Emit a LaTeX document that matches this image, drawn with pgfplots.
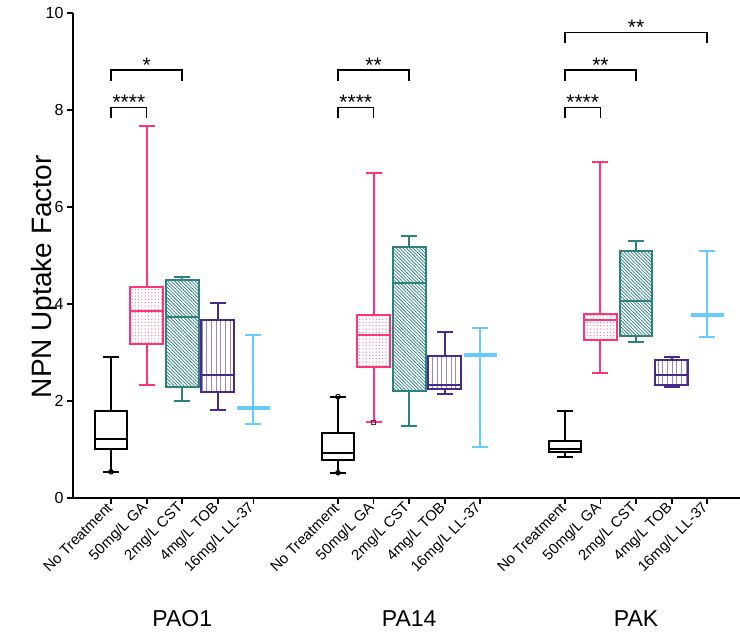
\documentclass[border=0pt]{standalone}
\usepackage{fontspec}
\setmainfont{Liberation Sans}
\usepackage{pgfplots}
\pgfplotsset{compat=1.18}
\usepgfplotslibrary{statistics}
\usetikzlibrary{patterns.meta}

\definecolor{gapink}{RGB}{255,51,119}
\definecolor{cstteal}{RGB}{45,130,128}
\definecolor{tobpurple}{RGB}{75,40,140}
\definecolor{llblue}{RGB}{102,204,255}

\pgfplotsset{
  bx/.style={line width=2pt, solid, boxplot/draw direction=y,
    boxplot/box extend=0.92, boxplot/whisker extend=0.45},
  nt/.style={bx, draw=black, boxplot/every box/.style={draw=black, fill=white}},
  ga/.style={bx, draw=gapink, boxplot/every box/.style={draw=gapink,
      pattern={Dots[distance=3.3pt, radius=0.65pt]}, pattern color=gapink!75}},
  cst/.style={bx, draw=cstteal, boxplot/every box/.style={draw=cstteal,
      pattern={Lines[angle=-45, distance=2.4pt, line width=0.75pt]}, pattern color=cstteal}},
  tob/.style={bx, draw=tobpurple, boxplot/every box/.style={draw=tobpurple,
      pattern={Lines[angle=90, distance=4.7pt, line width=1pt]}, pattern color=tobpurple!55}},
  ll/.style={bx, draw=llblue, boxplot/every median/.style={line width=4pt}},
}

\begin{document}
\begin{tikzpicture}
\useasboundingbox (-73pt,-138pt) rectangle (667pt,498pt);
\begin{axis}[
  at={(0pt,0pt)}, anchor=south west,
  scale only axis, width=667pt, height=485pt,
  xmin=-1.07, xmax=17.67, ymin=0, ymax=10,
  axis x line=bottom, axis y line=left,
  axis line style={-, line width=2pt, black},
  tick align=outside, major tick length=6pt,
  tick style={line width=1.8pt, black},
  ytick={0,2,4,6,8,10},
  yticklabel style={font=\fontsize{16}{16}\selectfont},
  /pgf/number format/assume math mode=true,
  xtick={0,1,2,3,4,6.375,7.375,8.375,9.375,10.375,12.75,13.75,14.75,15.75,16.75},
  xticklabels={No Treatment,50mg/L GA,2mg/L CST,4mg/L TOB,16mg/L LL-37,
               No Treatment,50mg/L GA,2mg/L CST,4mg/L TOB,16mg/L LL-37,
               No Treatment,50mg/L GA,2mg/L CST,4mg/L TOB,16mg/L LL-37},
  xticklabel style={rotate=45, anchor=east, inner sep=2pt, font=\fontsize{14.8}{14.8}\selectfont},
  ylabel={NPN Uptake Factor},
  ylabel style={font=\fontsize{28}{28}\selectfont, at={(axis description cs:-0.0435,0.456)}, anchor=center},
  clip=false,
]
% PAO1
\addplot[nt, boxplot prepared={draw position=0, lower whisker=0.54, lower quartile=1.00, median=1.22, upper quartile=1.79, upper whisker=2.91}] coordinates {};
\addplot[ga, boxplot prepared={draw position=1, lower whisker=2.33, lower quartile=3.18, median=3.86, upper quartile=4.36, upper whisker=7.68}] coordinates {};
\addplot[cst, boxplot prepared={draw position=2, lower whisker=2.01, lower quartile=2.29, median=3.73, upper quartile=4.50, upper whisker=4.56}] coordinates {};
\addplot[tob, boxplot prepared={draw position=3, lower whisker=1.81, lower quartile=2.18, median=2.54, upper quartile=3.66, upper whisker=4.03}] coordinates {};
\addplot[ll, boxplot prepared={draw position=4, lower whisker=1.52, lower quartile=1.85, median=1.85, upper quartile=1.85, upper whisker=3.37}] coordinates {};
% PA14
\addplot[nt, boxplot prepared={draw position=6.375, lower whisker=0.52, lower quartile=0.78, median=0.92, upper quartile=1.33, upper whisker=2.09}] coordinates {};
\addplot[ga, boxplot prepared={draw position=7.375, lower whisker=1.56, lower quartile=2.71, median=3.37, upper quartile=3.77, upper whisker=6.71}] coordinates {};
\addplot[cst, boxplot prepared={draw position=8.375, lower whisker=1.49, lower quartile=2.21, median=4.43, upper quartile=5.18, upper whisker=5.40}] coordinates {};
\addplot[tob, boxplot prepared={draw position=9.375, lower whisker=2.15, lower quartile=2.25, median=2.33, upper quartile=2.92, upper whisker=3.42}] coordinates {};
\addplot[ll, boxplot prepared={draw position=10.375, lower whisker=1.05, lower quartile=2.94, median=2.94, upper quartile=2.94, upper whisker=3.51}] coordinates {};
% PAK
\addplot[nt, boxplot prepared={draw position=12.75, lower whisker=0.85, lower quartile=0.94, median=1.02, upper quartile=1.18, upper whisker=1.79}] coordinates {};
\addplot[ga, boxplot prepared={draw position=13.75, lower whisker=2.58, lower quartile=3.25, median=3.67, upper quartile=3.80, upper whisker=6.92}] coordinates {};
\addplot[cst, boxplot prepared={draw position=14.75, lower whisker=3.22, lower quartile=3.33, median=4.06, upper quartile=5.09, upper whisker=5.30}] coordinates {};
\addplot[tob, boxplot prepared={draw position=15.75, lower whisker=2.28, lower quartile=2.32, median=2.53, upper quartile=2.84, upper whisker=2.91}] coordinates {};
\addplot[ll, boxplot prepared={draw position=16.75, lower whisker=3.31, lower quartile=3.77, median=3.77, upper quartile=3.77, upper whisker=5.10}] coordinates {};
% single points at whisker ends
\addplot[only marks, mark=o, mark size=2.3pt, black, line width=1pt] coordinates {(0,0.54) (6.375,0.52) (6.375,2.09)};
\addplot[only marks, mark=square, mark size=2pt, gapink!50!black, line width=1pt] coordinates {(7.375,1.56)};

% significance brackets
\begin{scope}[line width=1.6pt, black]
\draw (axis cs:0,7.83) -- (axis cs:0,8.05) -- (axis cs:1,8.05) -- (axis cs:1,7.83);
\draw (axis cs:0,8.60) -- (axis cs:0,8.82) -- (axis cs:2,8.82) -- (axis cs:2,8.60);
\draw (axis cs:6.375,7.83) -- (axis cs:6.375,8.05) -- (axis cs:7.375,8.05) -- (axis cs:7.375,7.83);
\draw (axis cs:6.375,8.60) -- (axis cs:6.375,8.82) -- (axis cs:8.375,8.82) -- (axis cs:8.375,8.60);
\draw (axis cs:12.75,7.83) -- (axis cs:12.75,8.05) -- (axis cs:13.75,8.05) -- (axis cs:13.75,7.83);
\draw (axis cs:12.75,8.60) -- (axis cs:12.75,8.82) -- (axis cs:14.75,8.82) -- (axis cs:14.75,8.60);
\draw (axis cs:12.75,9.39) -- (axis cs:12.75,9.60) -- (axis cs:16.75,9.60) -- (axis cs:16.75,9.39);
\end{scope}
\begin{scope}[every node/.style={font=\fontsize{21}{21}\selectfont, anchor=base, inner sep=0pt}]
\node at (axis cs:0.5,8.0) {****};
\node at (axis cs:1,8.78) {*};
\node at (axis cs:6.875,8.0) {****};
\node at (axis cs:7.375,8.78) {**};
\node at (axis cs:13.25,8.0) {****};
\node at (axis cs:13.75,8.78) {**};
\node at (axis cs:14.75,9.55) {**};
\end{scope}

% strain labels
\begin{scope}[every node/.style={font=\fontsize{23}{23}\selectfont, anchor=base}]
\node at (axis cs:2,0) [yshift=-129pt] {PAO1};
\node at (axis cs:8.375,0) [yshift=-129pt] {PA14};
\node at (axis cs:14.75,0) [yshift=-129pt] {PAK};
\end{scope}
\end{axis}
\end{tikzpicture}
\end{document}
